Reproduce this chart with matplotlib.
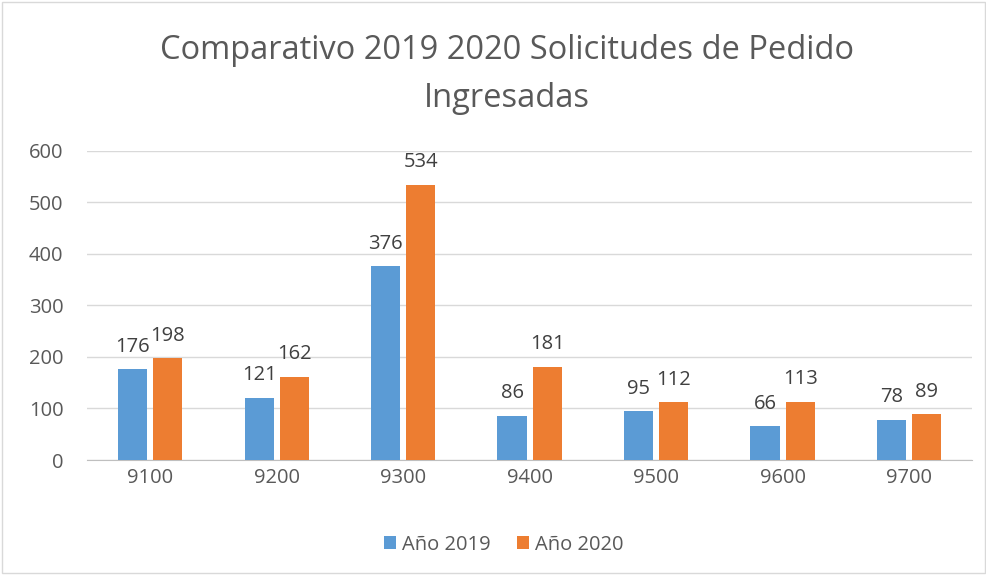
import numpy as np
import matplotlib.pyplot as plt

plt.rcParams['font.family'] = ['Open Sans', 'DejaVu Sans']

categorias = ['9100', '9200', '9300', '9400', '9500', '9600', '9700']
anio_2019 = [176, 121, 376, 86, 95, 66, 78]
anio_2020 = [198, 162, 534, 181, 112, 113, 89]

azul = '#5b9bd5'
naranja = '#ed7d31'

fig = plt.figure(figsize=(9.87, 5.75), dpi=100)
ax = fig.add_axes([0.0881, 0.2, 0.897, 0.5374])

x = np.arange(len(categorias))
w = 0.23
b1 = ax.bar(x - 0.139, anio_2019, w, color=azul, label='Año 2019', zorder=3)
b2 = ax.bar(x + 0.139, anio_2020, w, color=naranja, label='Año 2020', zorder=3)

for bars in (b1, b2):
    for r in bars:
        ax.annotate(str(int(r.get_height())), (r.get_x() + r.get_width() / 2, r.get_height()),
                    xytext=(0, 9), textcoords='offset points', ha='center', va='bottom',
                    fontsize=14.5, color='#404040')

ax.set_xlim(-0.5, len(categorias) - 0.5)
ax.set_ylim(0, 600)
ax.set_yticks(range(0, 601, 100))
ax.set_xticks(x)
ax.set_xticklabels(categorias)
ax.tick_params(axis='both', length=0, labelsize=14.5, colors='#595959', pad=6)
ax.tick_params(axis='y', pad=17)
ax.grid(axis='y', color='#d9d9d9', linewidth=1, zorder=0)
for s in ['top', 'right', 'left']:
    ax.spines[s].set_visible(False)
ax.spines['bottom'].set_color('#bfbfbf')

fig.text(0.514, 0.912, 'Comparativo 2019 2020 Solicitudes de Pedido',
         ha='center', va='center', fontsize=23.5, color='#595959')
fig.text(0.514, 0.828, 'Ingresadas',
         ha='center', va='center', fontsize=23.5, color='#595959')

fig.legend(loc='center', bbox_to_anchor=(0.51, 0.053), ncol=2, frameon=False,
           fontsize=14.5, handlelength=0.6, handleheight=0.6, columnspacing=1.3,
           handletextpad=0.3, labelcolor='#595959')

fig.patches.append(plt.Rectangle((0.002, 0.003), 0.996, 0.994, transform=fig.transFigure,
                                 fill=False, edgecolor='#d9d9d9', linewidth=1))

fig.savefig('out.png', dpi=100)
